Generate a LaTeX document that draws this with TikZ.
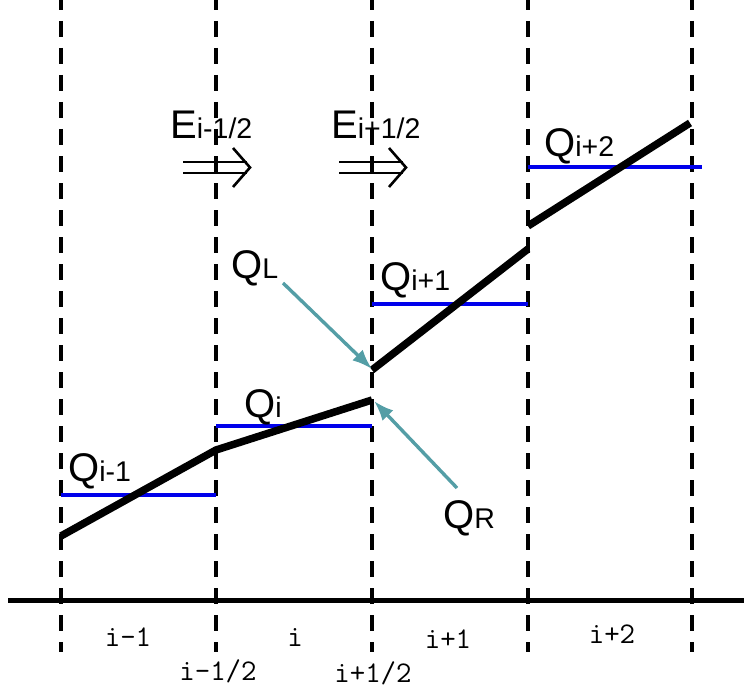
\documentclass[tikz,border=0pt]{standalone}
\usepackage{fontspec}
\usetikzlibrary{arrows.meta}
\setmainfont{Liberation Sans}
\setmonofont{Latin Modern Mono}
\definecolor{tealarrow}{RGB}{84,158,166}
\definecolor{avgblue}{RGB}{0,0,235}
\begin{document}
\begin{tikzpicture}[x=1pt,y=-1pt,
  grid/.style={line width=3.4pt,dash pattern=on 16pt off 11pt,dash phase=6pt},
  axis/.style={line width=5pt},
  avg/.style={avgblue,line width=3.2pt},
  recon/.style={line width=7.5pt},
  pointer/.style={tealarrow,line width=3.4pt,-{Latex[length=20pt,width=15pt]}},
  flux/.style={line width=2.6pt},
  qlab/.style={anchor=base west,inner sep=0pt,font=\fontsize{40}{40}\selectfont},
  idx/.style={inner sep=0pt,font=\ttfamily\fontsize{30}{30}\selectfont}]
\useasboundingbox (0,0) rectangle (744,690);
\newcommand{\sbs}[1]{{\fontsize{28.5}{28.5}\selectfont #1}}
% grid lines
\foreach \n/\x in {a/61,b/216,c/372,d/528,e/692}{
  \coordinate (top\n) at (\x,0);
  \coordinate (bot\n) at (\x,652);
  \draw[grid] (top\n) -- (bot\n);
}
% axis
\coordinate (axL) at (8,600);
\coordinate (axR) at (744,600);
\draw[axis] (axL) -- (axR);
% cell averages
\coordinate (a1) at (61,495); \coordinate (a2) at (216,495);
\coordinate (b1) at (216,426); \coordinate (b2) at (372,426);
\coordinate (c1) at (372,304); \coordinate (c2) at (528,304);
\coordinate (d1) at (528,167); \coordinate (d2) at (702,167);
\draw[avg] (a1) -- (a2);
\draw[avg] (b1) -- (b2);
\draw[avg] (c1) -- (c2);
\draw[avg] (d1) -- (d2);
% reconstructions
\coordinate (r1) at (61,536);
\coordinate (r2) at (216,450);
\coordinate (r3) at (372,400);
\coordinate (r4) at (372,370);
\coordinate (r5) at (528,249);
\coordinate (r6) at (528,226);
\coordinate (r7) at (690,123);
\draw[recon] (r1) -- (r2) -- (r3);
\draw[recon] (r4) -- (r5);
\draw[recon] (r6) -- (r7);
% labels
\node[qlab] (lqm1) at (68,481) {Q\sbs{i-1}};
\node[qlab] (lqi) at (244,417) {Q\sbs{i}};
\node[qlab] (lqp1) at (380,290) {Q\sbs{i+1}};
\node[qlab] (lqp2) at (544,157) {Q\sbs{i+2}};
\node[qlab] (lQL) at (231,278) {Q\sbs{L}};
\node[qlab] (lQR) at (443,528) {Q\sbs{R}};
\node[qlab] (lEm) at (170,139) {E\sbs{i-1/2}};
\node[qlab] (lEp) at (331,139) {E\sbs{i+1/2}};
% pointers
\coordinate (pLs) at (283,283);
\coordinate (pRs) at (457,488);
\coordinate (pLt) at (372,369);
\coordinate (pRt) at (374,401);
\draw[pointer] (pLs) -- (pLt);
\draw[pointer] (pRs) -- (pRt);
% flux arrows
\foreach \n/\dx in {m/0,p/156}{
  \draw[flux] (183+\dx,162) -- (247+\dx,162);
  \draw[flux] (183+\dx,173) -- (247+\dx,173);
  \draw[flux] (233+\dx,148) -- (250+\dx,167.5) -- (233+\dx,187);
}
% index labels
\node[idx] (im1) at (128,637) {i-1};
\node[idx] (ii) at (295,637) {i};
\node[idx] (ip1) at (448,639) {i+1};
\node[idx] (ip2) at (612,634) {i+2};
\node[idx] (imh) at (218,671) {i-1/2};
\node[idx] (iph) at (373,673) {i+1/2};
\end{tikzpicture}
\end{document}
